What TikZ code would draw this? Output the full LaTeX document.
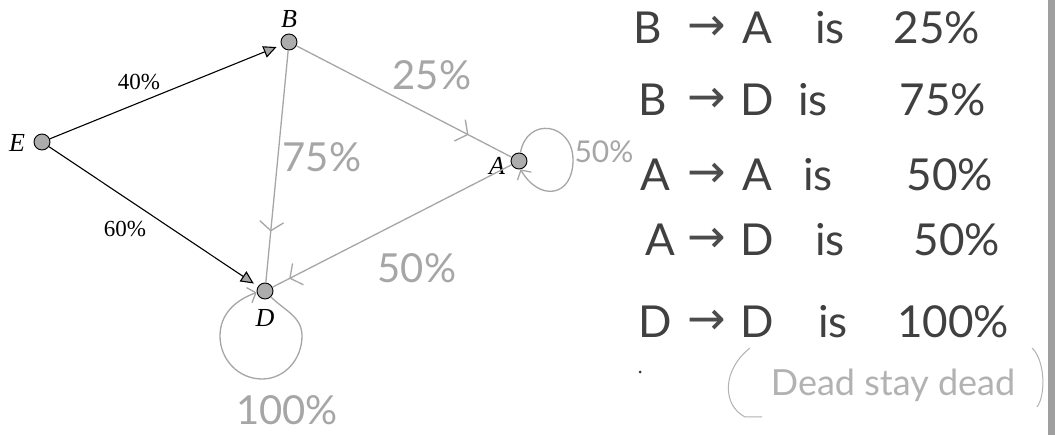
\documentclass[tikz,border=0pt]{standalone}
\usepackage{fontspec}
\setmainfont{Liberation Serif}
\newfontfamily\hand{Lato}
\newfontfamily\sym{DejaVu Sans}
\usetikzlibrary{arrows.meta,decorations.markings}
\begin{document}
\begin{tikzpicture}[x=1pt,y=1pt,
  vert/.style={circle,fill=gray!65,draw=black,line width=0.9pt,minimum size=16pt,inner sep=0pt},
  lbl/.style={font=\fontsize{26}{26}\selectfont\itshape,inner sep=0pt},
  prt/.style={font=\fontsize{23}{23}\selectfont,inner sep=0pt},
  blackedge/.style={draw=black,line width=1.1pt,-{Triangle[length=13pt,width=12pt,fill=gray!70]},shorten >=5pt},
  handedge/.style={draw=gray!70,line width=1.3pt},
  vmark/.style={postaction={decorate},decoration={markings,mark=at position #1 with {\arrow[gray!70,line width=1.3pt]{Straight Barb[length=9pt,width=24pt]}}}},
  handtip/.style={-{Straight Barb[length=7pt,width=16pt,line width=1.3pt]}},
  hw/.style={font=\hand\fontsize{40}{40}\selectfont,text=gray!70,inner sep=0pt},
  tb/.style={font=\hand\fontsize{44}{44}\selectfont,text=black!75,inner sep=0pt},
  tbarrow/.style={font=\sym\fontsize{46}{46}\selectfont,text=black!70,inner sep=0pt},
]
\useasboundingbox (0,0) rectangle (1055,-435);
\fill[white] (0,0) rectangle (1055,-435);
\fill[gray!75] (1048,0) rectangle (1055,-435);

% vertices
\node[vert] (E) at (42,-142) {};
\node[vert] (B) at (289,-42) {};
\node[vert] (A) at (519,-161) {};
\node[vert] (D) at (265,-291) {};
\node[lbl] (El) at (17,-143) {E};
\node[lbl] (Bl) at (289,-19) {B};
\node[lbl] (Al) at (497,-166) {A};
\node[lbl] (Dl) at (265,-318) {D};

% printed edges
\draw[blackedge] (E) -- (B);
\draw[blackedge] (E) -- (D);
\node[prt] (p40) at (139,-82) {40\%};
\node[prt] (p60) at (125,-229) {60\%};

% hand-drawn edges
\draw[handedge,vmark=0.78] (B) -- (D);
\draw[handedge,vmark=0.8] (B) -- (A);
\draw[handedge,vmark=0.93] (A) -- (D);
\coordinate (aloopR) at (573,-160);
\draw[handedge,handtip] (A.80) to[out=80,in=90,looseness=1.8] (aloopR) to[out=-90,in=-60,looseness=1.8] (A.-80);
\coordinate (dl1) at (302,-336);
\coordinate (dl2) at (262,-379);
\coordinate (dl3) at (220,-336);
\draw[handedge,handtip] (D.-45) to[out=-45,in=90] (dl1) to[out=-90,in=0] (dl2) to[out=180,in=-90] (dl3) to[out=90,in=200] (D.190);

\node[hw] (h25) at (432,-75) {25\%};
\node[hw] (h75) at (322,-157) {75\%};
\node[hw] (h50a) at (417,-268) {50\%};
\node[hw,font=\hand\fontsize{30}{30}\selectfont] (h50b) at (604,-152) {50\%};
\node[hw] (h100) at (287,-410) {100\%};

% table
\foreach \l/\r/\p/\y/\xl/\xi/\xp [count=\i] in {B/A/25/28/648/830/937, B/D/75/100/653/813/943, A/A/50/175/655/818/950, A/D/50/240/660/830/957, D/D/100/322/655/833/953}{
  \node[tb] (tl\i) at (\xl,-\y) {\l};
  \node[tbarrow] (ta\i) at (707,-\y) {→};
  \node[tb] (tr\i) at (757,-\y) {\r};
  \node[tb] (ti\i) at (\xi,-\y) {is};
  \node[tb] (tp\i) at (\xp,-\y) {\p\%};
}
\fill[black!80] (640,-372) circle (1.5);
\node[hw,font=\hand\fontsize{36}{36}\selectfont,text=gray!60] (dead) at (893,-385) {Dead stay dead};
\draw[gray!60,line width=1pt] (750,-348) .. controls (722,-370) and (722,-405) .. (745,-417) -- (762,-417);
\draw[gray!60,line width=1pt] (1032,-348) .. controls (1045,-360) and (1046,-395) .. (1037,-407);
\end{tikzpicture}
\end{document}
